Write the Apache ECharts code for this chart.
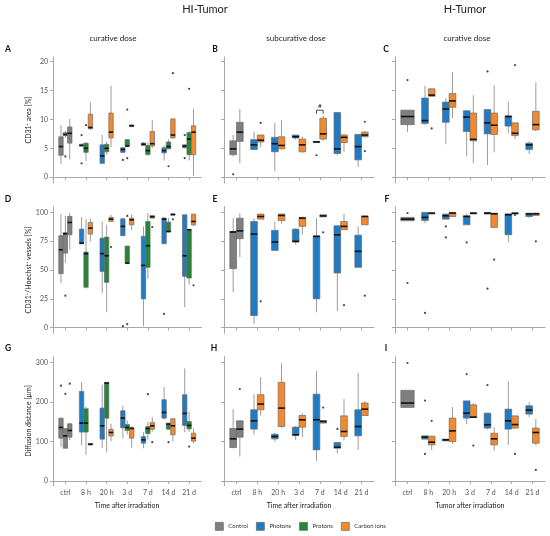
<!DOCTYPE html>
<html><head><meta charset="utf-8">
<script src="https://cdn.jsdelivr.net/npm/echarts@6/dist/echarts.min.js"></script>
<style>html,body{margin:0;padding:0;background:#fff}#c{width:550px;height:536px}</style>
</head><body><div id="c"></div>
<script>
// ---------- DATA ----------
const categories = ['ctrl','8 h','20 h','3 d','7 d','14 d','21 d'];
const groupNames = ['Control','Photons','Protons','Carbon ions'];
const yTicksRow1 = [0,5,10,15,20];
const yTicksRow2 = [0,25,50,75,100];
const yTicksRow3 = [0,100,200,300];
// boxes: [min, q1, median, q3, max]; treated arrays follow 8 h .. 21 d
// control outliers: [control cohort index, value]; treated outliers: [category, value]

// Panel A  (HI-Tumor, curative, CD31+ area %)
const A_control = [[2.3,3.8,5.3,7.0,9.0],[6.8,7.2,7.4,7.7,8.0],[3.1,5.9,7.6,8.7,10.1]];
const A_control_out = [[1,3.6]];
const A_photons = [[5.3,5.4,5.5,5.7,5.8],[2.4,2.4,3.7,5.6,7.3],[4.2,4.3,4.8,5.1,5.2],[5.4,5.5,5.7,5.9,6.1],[2.9,4.2,4.6,5.1,5.5],[5.0,5.1,5.4,5.6,5.7]];
const A_photons_out = [['8 h',7.3],['8 h',2.4],['3 d',3.0],['21 d',7.3],['21 d',3.3]];
const A_protons = [[2.8,4.3,5.0,5.9,5.9],[3.9,4.4,5.0,5.7,6.2],[5.2,5.4,5.4,6.5,6.6],[3.8,3.9,4.6,5.5,6.0],[4.9,4.9,5.3,6.1,6.5],[2.9,3.9,6.6,7.7,8.0]];
const A_protons_out = [['8 h',9.0],['3 d',11.7],['3 d',3.3],['14 d',1.9],['21 d',15.3]];
const A_carbon = [[8.2,8.4,8.6,10.9,13.0],[5.2,6.8,7.8,11.1,15.8],[8.7,8.75,8.9,9.05,9.1],[5.0,5.4,5.8,7.9,9.9],[6.7,6.8,7.3,10.1,10.1],[0.2,3.9,7.8,8.9,11.8]];
const A_carbon_out = [['14 d',18.0]];

// Panel B  (HI-Tumor, subcurative)
const B_control = [[3.6,3.9,4.9,6.3,7.3],[2.4,6.2,7.8,9.5,11.8]];
const B_control_out = [[0,0.5]];
const B_photons = [[4.8,4.8,5.6,6.5,7.9],[1.0,4.4,5.8,6.9,9.4],[6.5,6.8,7.0,7.3,7.3],[6.0,6.05,6.1,6.2,6.2],[3.8,4.1,4.9,11.2,11.2],[1.8,3.0,5.3,7.4,7.4]];
const B_photons_out = [['7 d',3.8]];
const B_carbon = [[5.2,6.1,6.4,7.3,7.3],[4.8,4.9,5.5,7.0,9.9],[4.2,4.4,5.6,6.6,7.0],[6.3,6.6,7.5,10.2,10.7],[4.4,6.0,6.9,7.3,7.5],[6.9,7.0,7.3,7.8,8.0]];
const B_carbon_out = [['8 h',9.4],['21 d',9.6],['21 d',4.5]];
const B_signif = [['7 d',11.6,'#']];

// Panel C  (H-Tumor, curative)
const C_control = [[7.8,9.1,10.5,11.6,11.6]];
const C_control_out = [[0,16.8]];
const C_photons = [[9.0,9.3,9.8,13.7,15.8],[5.7,9.5,11.8,13.0,13.7],[3.6,7.9,10.4,11.5,11.6],[2.1,7.5,9.4,11.7,11.7],[7.6,8.85,10.5,10.6,13.0],[4.0,4.8,5.6,5.9,6.2]];
const C_photons_out = [['7 d',18.3]];
const C_carbon = [[14.0,14.0,14.2,15.3,15.3],[10.2,12.1,13.2,14.5,18.2],[2.4,6.3,6.55,11.1,14.2],[4.3,7.4,9.0,11.1,15.9],[6.6,7.2,7.6,9.4,9.4],[8.0,8.2,9.1,11.4,16.4]];
const C_carbon_out = [['8 h',8.45],['14 d',19.4]];

// Panel D  (CD31+/Hoechst+ vessels %)
const D_control = [[38.7,46.8,67.6,79.8,98.5],[56,64.7,81.5,82.5,97],[67.6,80.6,91.3,96.5,99.4]];
const D_control_out = [[1,27.7]];
const D_photons = [[72.8,72.8,73.4,85.5,96],[30,48.8,64.2,77.7,92.2],[79.8,79.8,87.9,94.5,95],[1.2,24.9,54,79.2,87.9],[72.8,72.8,94.2,95.1,96],[17.6,44.5,62.4,98,98]];
const D_photons_out = [['3 d',1.2],['14 d',11.8]];
const D_protons = [[34,35,64.2,65.6,94.2],[13.3,39.3,62.4,78.6,89.3],[55,56,56,70.8,71],[42.2,52.3,71.1,92.2,99.4],[83,83,83.5,91.6,95],[37.3,43,85,85,85]];
const D_protons_out = [['3 d',2.9],['3 d',97]];
const D_carbon = [[74.8,81.2,86.4,91.3,94.8],[92,92.2,94.2,95.7,98],[84.4,89.3,93.6,95,98.6],[95,95.1,96.2,97.4,97.5],[97.5,97.6,98.3,98.6,98.7],[88,89.3,92.2,98.5,99]];
const D_carbon_out = [['20 h',70],['7 d',87.3],['14 d',94],['21 d',36.7]];

// Panel E
const E_control = [[30.6,51.2,83,83.5,95],[61,77.2,84,95,99.4]];
const E_control_out = [];
const E_photons = [[3.2,10.4,81.2,92.2,95],[67,67,74.3,84.4,92],[72,74.3,74.9,85.5,86.4],[13.3,24.9,79.2,79.6,95],[14.2,47.4,80.6,88.4,89],[52.3,52.3,66.2,80.3,87.9]];
const E_photons_out = [];
const E_carbon = [[94.2,94.2,96.5,98.6,99],[90.2,93,97.4,98.6,99],[80.6,87.9,95.1,95.7,96],[96,96.2,97,98,98],[85,85,87.9,92.2,98.6],[89.3,89.3,96.5,96.8,97]];
const E_carbon_out = [['8 h',22.8],['7 d',82.7],['14 d',19.4],['21 d',27.7]];

// Panel F
const F_control = [[92.8,92.8,94.2,95.7,95.7]];
const F_control_out = [[0,99.5],[0,38.7]];
const F_photons = [[90.8,93,95.7,100,100],[94.2,94.2,97.1,98.6,98.6],[89.3,89.3,96.5,97.1,99],[98.6,98.6,99.4,100,100],[74,80.6,98,98.8,99],[95,96.5,98.6,99.4,99.5]];
const F_photons_out = [['8 h',12.7],['20 h',87.9],['20 h',78.3],['3 d',74],['7 d',33.8]];
const F_carbon = [[99.2,99.3,99.4,99.5,99.6],[96.5,96.5,99.4,100,100],[99.2,99.3,99.4,99.5,99.6],[87,87,98.8,99.4,99.4],[99.0,99.1,99.3,99.5,99.6],[97.4,97.4,98.8,99.4,99.4]];
const F_carbon_out = [['7 d',59],['14 d',97.8],['21 d',74.9]];

// Panel G  (Diffusion distance µm)
const G_control = [[85.6,108.5,135.6,159,161],[81.4,83,114.4,133,133],[104,111,128,145,147]];
const G_control_out = [[0,241.5],[1,221],[2,246.6]];
const G_photons = [[90.7,124,146.6,227,251],[84,106,139.8,184.7,244],[107.6,134.7,159.3,178,190.7],[83,95.8,104.2,112.7,123.7],[155,159.3,173.7,206,238],[123.7,140.7,171.2,218.6,285.6]];
const G_photons_out = [];
const G_protons = [[66,124,146.6,183,189],[72.9,159,248,250,250],[118,128,135.6,143,153],[105,120,133,138,150],[130,131.4,144,146.6,147],[125,132,140.7,150.8,176]];
const G_protons_out = [['7 d',220],['14 d',98.3],['21 d',87.3]];
const G_carbon = [[90.7,91,93.2,95,95.5],[100.8,114,122.9,131,145],[84,108.5,133,136,138],[125,131,139.8,148,162],[100,117,139.8,157.6,160],[95.8,101,108.5,121,133]];
const G_carbon_out = [['7 d',98.3]];

// Panel H
const H_control = [[83,84.7,106.8,133,182],[62,111,131.4,152.5,152.5]];
const H_control_out = [[1,233]];
const H_photons = [[117,131.4,152.5,180.5,220],[100,106.8,112.7,118.6,122],[104,116,117,136.4,140],[51,78.8,155,220,278],[70,83,85.6,97.5,97.5],[78.8,114.4,138,180.5,273.7]];
const H_photons_out = [['14 d',132]];
const H_carbon = [[166,180.5,195,218.6,263.6],[135,138,184.7,250,298],[111,136.4,155,166,172],[146.6,146.6,150.8,153,153],[103,112.7,125.4,165,207.6],[166,166,182,197.5,203]];
const H_carbon_out = [['7 d',186]];

// Panel I
const I_control = [[186.4,186.4,197.5,229.7,229.7]];
const I_control_out = [[0,299]];
const I_photons = [[106,106,111,114.4,114.4],[101.7,101.7,104.2,106,106],[144,159.3,172,203,203],[131,134,142.4,172,172],[91.5,131.4,152.5,182,252.5],[162,169.5,179.6,190.7,200]];
const I_photons_out = [['8 h',204],['8 h',68.6],['3 d',271],['7 d',243]];
const I_carbon = [[78.8,91.5,98.3,113.6,113.6],[94,100,127,159.3,187],[160,161,161.9,193,197],[77,91.5,106.8,121,136.4],[134,134,143,165,165],[90,95.8,122.9,134,157]];
const I_carbon_out = [['8 h',152.5],['3 d',89.8],['14 d',68.6],['21 d',28]];

// ---------- LAYOUT / STYLE ----------
const FONT = 'Lato, "Open Sans", sans-serif';
const colors = {'Control':'#7f7f7f','Photons':'#1f7bc4','Protons':'#23873a','Carbon ions':'#f3892c'};
const DODGE = 0.64;
const colLeft = [53,224,395], colWidth = [148.5,150,150];
const rowTop = [57,206.7,356.7], rowHeight = [126,126.6,129];
const rowRange = [[-1,20.8],[-5,105],[-12,315]];
const rowTicks = [yTicksRow1,yTicksRow2,yTicksRow3];
const axisGrey = '#a8a8a8';

const panels = [
  {row:0,col:0,control:[A_control,A_control_out],treat:[['Photons',A_photons,A_photons_out],['Protons',A_protons,A_protons_out],['Carbon ions',A_carbon,A_carbon_out]]},
  {row:0,col:1,control:[B_control,B_control_out],treat:[['Photons',B_photons,B_photons_out],['Carbon ions',B_carbon,B_carbon_out]],signif:B_signif},
  {row:0,col:2,control:[C_control,C_control_out],treat:[['Photons',C_photons,C_photons_out],['Carbon ions',C_carbon,C_carbon_out]]},
  {row:1,col:0,control:[D_control,D_control_out],treat:[['Photons',D_photons,D_photons_out],['Protons',D_protons,D_protons_out],['Carbon ions',D_carbon,D_carbon_out]]},
  {row:1,col:1,control:[E_control,E_control_out],treat:[['Photons',E_photons,E_photons_out],['Carbon ions',E_carbon,E_carbon_out]]},
  {row:1,col:2,control:[F_control,F_control_out],treat:[['Photons',F_photons,F_photons_out],['Carbon ions',F_carbon,F_carbon_out]]},
  {row:2,col:0,control:[G_control,G_control_out],treat:[['Photons',G_photons,G_photons_out],['Protons',G_protons,G_protons_out],['Carbon ions',G_carbon,G_carbon_out]]},
  {row:2,col:1,control:[H_control,H_control_out],treat:[['Photons',H_photons,H_photons_out],['Carbon ions',H_carbon,H_carbon_out]]},
  {row:2,col:2,control:[I_control,I_control_out],treat:[['Photons',I_photons,I_photons_out],['Carbon ions',I_carbon,I_carbon_out]]}
];

function off(slot, n){ return (slot - (n-1)/2) * DODGE / n; }

function boxRender(bw, color){
  return function(params, api){
    const x = api.value(0);
    const pMin = api.coord([x, api.value(1)]);
    const pQ1 = api.coord([x, api.value(2)]);
    const pMed = api.coord([x, api.value(3)]);
    const pQ3 = api.coord([x, api.value(4)]);
    const pMax = api.coord([x, api.value(5)]);
    const w = api.size([bw, 0])[0];
    const cx = pMed[0];
    const h = Math.max(pQ1[1]-pQ3[1], 1);
    return {type:'group', children:[
      {type:'line', shape:{x1:cx,y1:pMax[1],x2:cx,y2:pQ3[1]}, style:{stroke:'#9c9c9c',lineWidth:1}},
      {type:'line', shape:{x1:cx,y1:pQ1[1],x2:cx,y2:pMin[1]}, style:{stroke:'#9c9c9c',lineWidth:1}},
      {type:'rect', shape:{x:cx-w/2,y:pQ3[1],width:w,height:h}, style:{fill:color,stroke:'#6a6a6a',lineWidth:0.7}},
      {type:'line', shape:{x1:cx-w/2,y1:pMed[1],x2:cx+w/2,y2:pMed[1]}, style:{stroke:'#111',lineWidth:1.6}}
    ]};
  };
}

const grids=[], xAxes=[], yAxes=[], series=[];
panels.forEach((p, i) => {
  grids.push({left:colLeft[p.col], top:rowTop[p.row], width:colWidth[p.col], height:rowHeight[p.row], containLabel:false});
  xAxes.push({type:'value', gridIndex:i, min:0.4, max:7.6,
    axisLine:{show:true, lineStyle:{color:axisGrey, width:1}},
    axisTick:{show:true, customValues:[1,2,3,4,5,6,7], length:3, lineStyle:{color:axisGrey}},
    axisLabel:{show:p.row===2, customValues:[1,2,3,4,5,6,7], formatter:v=>categories[Math.round(v)-1], fontSize:7, color:'#555', fontFamily:FONT, margin:4},
    splitLine:{show:false}});
  yAxes.push({type:'value', gridIndex:i, min:rowRange[p.row][0], max:rowRange[p.row][1],
    axisLine:{show:true, lineStyle:{color:axisGrey, width:1}},
    axisTick:{show:true, customValues:rowTicks[p.row], length:3, lineStyle:{color:axisGrey}},
    axisLabel:{show:p.col===0, customValues:rowTicks[p.row], fontSize:7, color:'#555', fontFamily:FONT, margin:5},
    splitLine:{show:false}});
  const outliers = [];
  const [cBoxes, cOut] = p.control;
  const nC = cBoxes.length;
  series.push({type:'custom', name:'Control', xAxisIndex:i, yAxisIndex:i, itemStyle:{color:colors['Control']},
    renderItem: boxRender(DODGE/nC, colors['Control']), encode:{x:0,y:[1,2,3,4,5]},
    data: cBoxes.map((b,k)=>[1+off(k,nC)].concat(b)), silent:true});
  cOut.forEach(o => outliers.push([1+off(o[0],nC), o[1]]));
  const nT = p.treat.length;
  p.treat.forEach((t, s) => {
    const [name, boxes, outs] = t;
    series.push({type:'custom', name:name, xAxisIndex:i, yAxisIndex:i, itemStyle:{color:colors[name]},
      renderItem: boxRender(DODGE/nT, colors[name]), encode:{x:0,y:[1,2,3,4,5]},
      data: boxes.map((b,j)=>[j+2+off(s,nT)].concat(b)), silent:true});
    outs.forEach(o => outliers.push([categories.indexOf(o[0])+1+off(s,nT), o[1]]));
  });
  series.push({type:'scatter', name:'outliers', xAxisIndex:i, yAxisIndex:i, symbolSize:2.2,
    itemStyle:{color:'#1a1a1a'}, data:outliers, silent:true, z:5});
  if (p.signif){
    series.push({type:'custom', name:'signif', xAxisIndex:i, yAxisIndex:i, silent:true,
      data: p.signif.map(s=>[categories.indexOf(s[0])+1+off(0,nT), categories.indexOf(s[0])+1+off(nT-1,nT), s[1]]),
      encode:{x:[0,1], y:2},
      renderItem:(params, api)=>{
        const a = api.coord([api.value(0), api.value(2)]);
        const b = api.coord([api.value(1), api.value(2)]);
        const leg = 3.5;
        const lab = p.signif[params.dataIndex][2];
        return {type:'group', children:[
          {type:'polyline', shape:{points:[[a[0],a[1]+leg],[a[0],a[1]],[b[0],b[1]],[b[0],b[1]+leg]]}, style:{stroke:'#222',fill:null,lineWidth:0.8}},
          {type:'text', style:{text:lab, x:(a[0]+b[0])/2, y:a[1]-1, textAlign:'center', textVerticalAlign:'bottom', fontSize:6.5, fill:'#222', fontFamily:FONT}}
        ]};
      }});
  }
});

// ---------- TEXT ----------
const txt = (t, x, y, size, opts={}) => Object.assign({type:'text', x:x, y:y, silent:true,
  style:Object.assign({text:t, fontSize:size, fill:'#222', fontFamily:FONT, textAlign:'center', textVerticalAlign:'middle'}, opts.style||{})}, opts.el||{});

const graphics = [
  txt('HI-Tumor', 205, 9, 11),
  txt('H-Tumor', 465, 9, 11),
  txt('curative dose', 113, 38, 8),
  txt('subcurative dose', 296, 38, 8),
  txt('curative dose', 467, 38, 8),
  txt('Time after irradiation', 127, 506, 7),
  txt('Time after irradiation', 299, 506, 7),
  txt('Tumor after irradiation', 470, 506, 7),
  txt('CD31⁺ area [%]', 29, 120, 7, {el:{rotation:Math.PI/2}}),
  txt('CD31⁺/Hoechst⁺ vessels [%]', 29, 270, 7, {el:{rotation:Math.PI/2}}),
  txt('Diffusion distance [µm]', 29, 421, 7, {el:{rotation:Math.PI/2}})
];
const letters = [['A',8,49],['B',215,49],['C',386,49],['D',8,199],['E',215,199],['F',387,199],['G',8,348],['H',214,348],['I',386,348]];
letters.forEach(l => graphics.push(txt(l[0], l[1], l[2], 8.5, {style:{fontWeight:'bold', fill:'#111'}})));

const chart = echarts.init(document.getElementById('c'));
chart.setOption({
  animation:false,
  backgroundColor:'#fff',
  grid:grids, xAxis:xAxes, yAxis:yAxes, series:series,
  legend:{data:groupNames, left:215, top:522, itemWidth:8, itemHeight:8, itemGap:8, icon:'rect',
    itemStyle:{borderColor:'#666', borderWidth:0.7},
    textStyle:{fontSize:6, color:'#333', fontFamily:FONT}, padding:0, selectedMode:false},
  graphic:graphics
});
</script>
</body></html>
